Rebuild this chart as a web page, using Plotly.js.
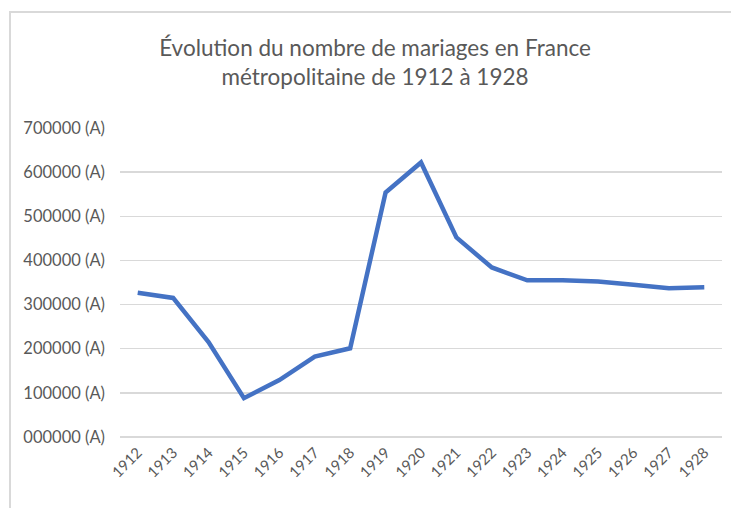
<!DOCTYPE html>
<html><head><meta charset="utf-8">
<script src="https://cdn.plot.ly/plotly-3.0.1.min.js"></script>
<style>
html,body{margin:0;padding:0;background:#fff;}
#wrap{position:relative;width:731px;height:508px;}
#chart{position:absolute;left:0;top:0;width:731px;height:508px;}
#frame{position:absolute;left:9px;top:11px;width:730px;height:505px;border-left:2px solid #d9d9d9;border-top:2px solid #d9d9d9;pointer-events:none;}
</style>
</head><body>
<div id="wrap"><div id="chart"></div><div id="frame"></div></div>
<script>
const years = ['1912','1913','1914','1915','1916','1917','1918','1919','1920','1921','1922','1923','1924','1925','1926','1927','1928'];
const mariages = [327000,315000,215000,88000,129000,182000,201000,554000,622000,452000,384000,355000,355000,352000,345000,337000,339000];
const yTickVals = [0,100000,200000,300000,400000,500000,600000,700000];
const yTickText = ['000000 (A)','100000 (A)','200000 (A)','300000 (A)','400000 (A)','500000 (A)','600000 (A)','700000 (A)'];

const trace = {
  x: years, y: mariages, type: 'scatter', mode: 'lines',
  line: {color: '#4472C4', width: 4.5, shape: 'linear'},
  hoverinfo: 'skip'
};
const layout = {
  width: 731, height: 508,
  margin: {l: 120, r: 9, t: 128, b: 71},
  paper_bgcolor: '#ffffff', plot_bgcolor: '#ffffff',
  showlegend: false,
  font: {family: 'Lato, "Open Sans", sans-serif', color: '#595959'},
  title: {
    text: 'Évolution du nombre de mariages en France<br>métropolitaine de 1912 à 1928',
    x: 0.513, xref: 'container', xanchor: 'center',
    y: 0.89, yref: 'container', yanchor: 'top',
    font: {family: 'Lato, "Open Sans", sans-serif', size: 22.5, color: '#595959'}
  },
  xaxis: {
    type: 'category', range: [-0.5, 16.5],
    showgrid: false, zeroline: false, showline: false,
    ticks: '', tickangle: -45, ticklabelstandoff: 3,
    tickfont: {size: 15, color: '#595959'}
  },
  yaxis: {
    range: [0, 700000], tickvals: yTickVals, ticktext: yTickText,
    showgrid: true, gridcolor: '#d9d9d9', gridwidth: 1.5,
    zeroline: true, zerolinecolor: '#d9d9d9', zerolinewidth: 1.5,
    showline: false, ticks: '', ticklabelstandoff: 14,
    tickfont: {size: 16.5, color: '#595959'}
  }
};
Plotly.newPlot('chart', [trace], layout, {displayModeBar: false, staticPlot: true});
</script>
</body></html>
